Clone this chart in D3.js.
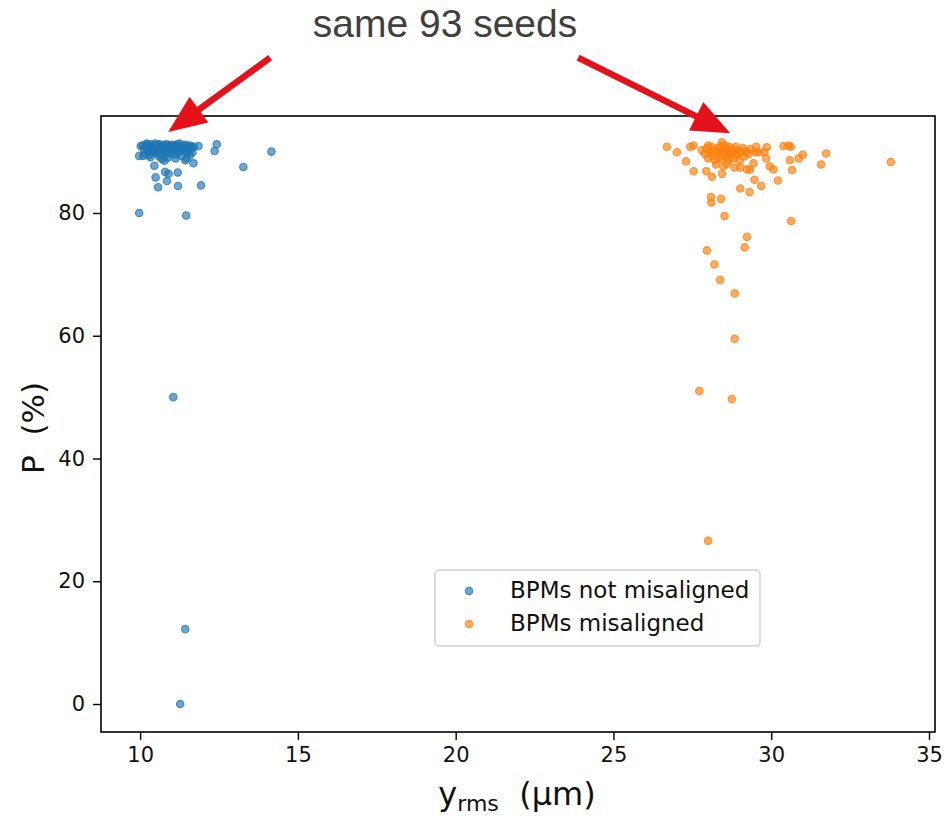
<!DOCTYPE html>
<html>
<head>
<meta charset="utf-8">
<script src="https://cdn.jsdelivr.net/npm/d3@7"></script>
<style>
  body { margin: 0; background: #fff; }
</style>
</head>
<body>
<script>
// DATA

var seriesNames = ["BPMs not misaligned", "BPMs misaligned"];
var xTicks = [10, 15, 20, 25, 30, 35];
var yTicks = [0, 20, 40, 60, 80];

// [y_rms (um), P (%)]
var notMisaligned = [
  [9.97,80.0],[11.05,50.0],[11.43,12.2],[11.27,0.0],[11.46,79.6],[12.43,91.2],[12.36,90.1],
  [14.16,90.0],[13.27,87.5],[11.93,84.5],[11.2,84.4],[10.57,84.2],[10.85,85.2],[10.49,85.8],
  [10.79,86.7],[10.9,86.4],[11.19,86.6],[10.45,87.7],[10.77,88.5],[11.69,88.1],[11.43,88.6],
  [9.97,89.3],[11.85,90.9],[10.69,88.8],[11.58,89.4],[11.48,88.9],
  [10.02,90.9],[10.08,91.0],[10.12,90.4],[10.15,89.6],[10.18,90.8],[10.22,91.1],[10.25,90.2],
  [10.28,89.4],[10.31,90.7],[10.34,91.2],[10.37,90.5],[10.4,89.9],[10.42,91.0],[10.45,90.3],
  [10.48,91.3],[10.5,90.6],[10.52,89.7],[10.55,91.1],[10.57,90.9],[10.6,90.1],[10.62,91.2],
  [10.64,90.4],[10.67,89.5],[10.7,90.8],[10.72,91.0],[10.74,90.2],[10.77,91.1],[10.8,89.9],
  [10.82,90.6],[10.85,91.2],[10.87,90.3],[10.9,89.6],[10.92,90.9],[10.95,91.0],[10.97,90.5],
  [11.0,89.8],[11.02,91.1],[11.05,90.7],[11.08,90.2],[11.1,91.0],[11.13,89.5],[11.15,90.8],
  [11.18,91.2],[11.2,90.4],[11.23,89.9],[11.26,90.9],[11.29,90.6],[11.32,89.3],[11.35,91.0],
  [11.38,90.5],[11.41,90.1],[11.44,91.1],[11.47,90.7],[11.5,89.8],[11.53,90.9],[11.56,90.3],
  [11.6,91.0],[11.63,90.6],[11.66,89.9],[11.7,90.8],[10.1,89.3],[10.33,89.1],[10.6,89.2],
  [10.88,89.0],[11.12,88.9],[10.2,91.3],[11.25,91.3]
];

var misaligned = [
  [26.69,90.8],[27.01,89.9],[27.3,88.4],[27.54,86.8],[27.43,90.8],[27.54,91.0],[27.8,90.2],
  [27.94,86.8],[28.12,85.9],[28.44,86.4],[28.44,91.5],[29.02,84.0],[29.31,83.4],[29.47,85.4],
  [29.68,84.4],[30.21,85.3],[30.66,87.0],[30.59,88.6],[30.87,88.9],[31.0,89.5],[31.58,87.9],
  [31.74,89.7],[33.79,88.3],[30.39,90.9],[30.55,91.0],[30.62,90.8],[29.86,90.7],[29.52,90.8],
  [29.5,89.9],[29.6,89.9],[29.78,89.9],[29.84,88.9],[29.95,87.6],[30.07,87.1],[29.44,88.1],
  [29.23,87.1],[29.33,87.1],[28.84,87.4],[29.02,87.4],[28.1,81.7],[28.09,82.6],[28.41,82.3],
  [28.52,79.5],[30.63,78.7],[29.23,76.1],[29.16,74.4],[27.96,73.9],[28.2,71.6],[28.38,69.1],
  [28.84,66.9],[28.84,59.5],[27.72,51.0],[28.75,49.7],[28.0,26.6],
  [27.9,89.6],[27.95,90.5],[28.0,88.9],[28.05,89.9],[28.1,90.8],[28.15,89.3],[28.2,90.2],
  [28.22,88.6],[28.27,89.7],[28.3,90.6],[28.35,89.1],[28.38,90.0],[28.42,90.9],[28.45,88.8],
  [28.5,89.5],[28.52,90.4],[28.56,91.0],[28.6,89.2],[28.63,90.1],[28.67,88.7],[28.7,90.7],
  [28.73,89.6],[28.77,90.3],[28.8,88.9],[28.84,89.8],[28.88,90.8],[28.92,89.4],[28.95,90.2],
  [29.0,88.6],[29.05,89.9],[29.1,90.6],[29.15,89.2],[29.2,90.1],[29.28,89.6],[29.35,90.4],
  [28.25,87.9],[28.6,88.0],[28.0,91.0],[28.48,87.6]
];

// annotation arrows: [tail x, tail y, tip x, tip y] in data units
var arrows = [
  [14.12, 105.3, 10.89, 93.2],
  [23.88, 105.3, 28.7, 93.0]
];

// LAYOUT

var svgWidth = 944;
var svgHeight = 816;
var margin = { top: 116, right: 9, bottom: 84, left: 101 };
var width = svgWidth - margin.left - margin.right;
var height = svgHeight - margin.top - margin.bottom;

var colors = ["#1f77b4", "#ff7f0e"];
var dejavu = "DejaVu Sans, sans-serif";

var svg = d3.select("body").append("svg")
  .attr("width", svgWidth)
  .attr("height", svgHeight);

var chartGroup = svg.append("g")
  .attr("transform", `translate(${margin.left}, ${margin.top})`);

// SCALES

var xScale = d3.scaleLinear().domain([8.76, 35.19]).range([0, width]);
var yScale = d3.scaleLinear().domain([-4.56, 95.8]).range([height, 0]);

// AXES

var bottomAxis = d3.axisBottom(xScale).tickValues(xTicks).tickSize(8).tickPadding(7);
var leftAxis = d3.axisLeft(yScale).tickValues(yTicks).tickSize(8).tickPadding(8);

var xg = chartGroup.append("g")
  .attr("transform", `translate(0, ${height})`)
  .call(bottomAxis);
var yg = chartGroup.append("g").call(leftAxis);

[xg, yg].forEach(function(g) {
  g.select(".domain").remove();
  g.selectAll("line").attr("stroke", "#000").attr("stroke-width", 1.4);
  g.selectAll("text").attr("font-size", 21).attr("fill", "#111")
    .attr("font-family", dejavu);
});

chartGroup.append("rect")
  .attr("width", width)
  .attr("height", height)
  .attr("fill", "none")
  .attr("stroke", "#000")
  .attr("stroke-width", 1.6);

// POINTS

[notMisaligned, misaligned].forEach(function(series, i) {
  chartGroup.append("g").selectAll("circle")
    .data(series)
    .enter()
    .append("circle")
    .attr("cx", d => xScale(d[0]))
    .attr("cy", d => yScale(d[1]))
    .attr("r", 3.7)
    .attr("fill", colors[i])
    .attr("fill-opacity", 0.65)
    .attr("stroke", colors[i])
    .attr("stroke-opacity", 0.75)
    .attr("stroke-width", 1.2);
});

// LEGEND

var legend = chartGroup.append("g")
  .attr("transform", `translate(${435 - margin.left}, ${570 - margin.top})`);

legend.append("rect")
  .attr("width", 325)
  .attr("height", 76)
  .attr("rx", 4)
  .attr("fill", "#fff")
  .attr("fill-opacity", 0.85)
  .attr("stroke", "#d0d0d0")
  .attr("stroke-width", 1.5);

seriesNames.forEach(function(name, i) {
  legend.append("circle")
    .attr("cx", 34)
    .attr("cy", 21 + i * 33)
    .attr("r", 3.7)
    .attr("fill", colors[i])
    .attr("fill-opacity", 0.65)
    .attr("stroke", colors[i])
    .attr("stroke-opacity", 0.75)
    .attr("stroke-width", 1.2);
  legend.append("text")
    .attr("x", 75)
    .attr("y", 28 + i * 33)
    .attr("font-family", dejavu)
    .attr("font-size", 23)
    .attr("fill", "#111")
    .text(name);
});

// AXIS LABELS

svg.append("text")
  .attr("transform", `translate(44, ${margin.top + height / 2 + 4}) rotate(-90)`)
  .attr("text-anchor", "middle")
  .attr("font-family", dejavu)
  .attr("font-size", 31)
  .attr("fill", "#111")
  .attr("xml:space", "preserve")
  .text("P  (%)");

var xl = svg.append("text")
  .attr("x", 517)
  .attr("y", 805)
  .attr("text-anchor", "middle")
  .attr("font-family", dejavu)
  .attr("font-size", 32)
  .attr("fill", "#111")
  .attr("xml:space", "preserve");
xl.append("tspan").text("y");
xl.append("tspan").attr("font-size", 22).attr("dy", 6).text("rms");
xl.append("tspan").attr("dy", -6).text("  (\u00b5m)");

// ANNOTATION

svg.append("text")
  .attr("x", 445)
  .attr("y", 37)
  .attr("text-anchor", "middle")
  .attr("font-family", "Liberation Sans, Arial, sans-serif")
  .attr("font-size", 39)
  .attr("fill", "#404040")
  .text("same 93 seeds");

var red = "#e3121b";
arrows.forEach(function(a) {
  var x1 = margin.left + xScale(a[0]), y1 = margin.top + yScale(a[1]);
  var x2 = margin.left + xScale(a[2]), y2 = margin.top + yScale(a[3]);
  var ang = Math.atan2(y2 - y1, x2 - x1);
  var headLen = 38, headHalf = 16;
  var bx = x2 - headLen * Math.cos(ang), by = y2 - headLen * Math.sin(ang);
  svg.append("line")
    .attr("x1", x1).attr("y1", y1)
    .attr("x2", bx + 4 * Math.cos(ang)).attr("y2", by + 4 * Math.sin(ang))
    .attr("stroke", red)
    .attr("stroke-width", 6.5);
  var px = -Math.sin(ang), py = Math.cos(ang);
  svg.append("path")
    .attr("d", `M${x2},${y2}L${bx + headHalf * px},${by + headHalf * py}L${bx - headHalf * px},${by - headHalf * py}Z`)
    .attr("fill", red);
});
</script>
</body>
</html>
